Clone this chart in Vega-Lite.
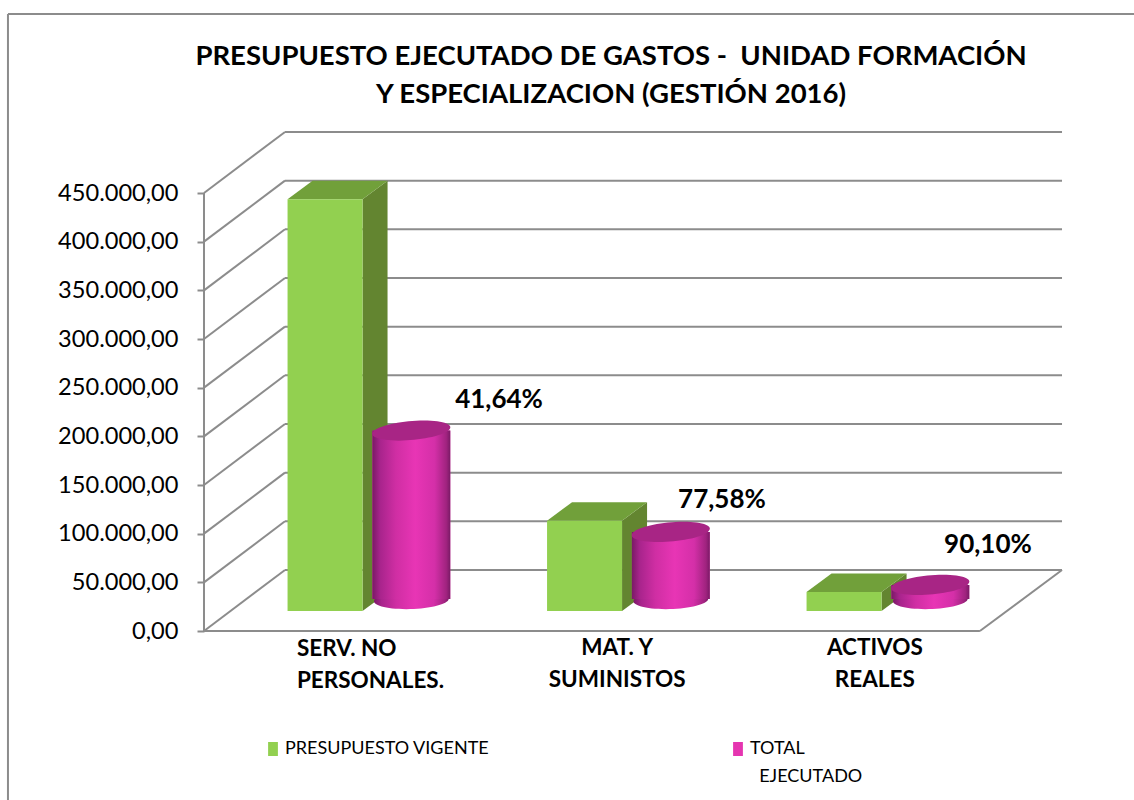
{
"$schema":"https://vega.github.io/schema/vega-lite/v6.json",
"width":1134,"height":800,"autosize":{"type":"none"},"padding":0,
"background":"white","view":{"stroke":null},
"config":{"style":{"guide-label":{"lineHeight":28}}},
"resolve":{"axis":{"y":"independent"}},
"title":{"text":["PRESUPUESTO EJECUTADO DE GASTOS -\u00a0 UNIDAD FORMACIÓN","Y ESPECIALIZACION (GESTIÓN 2016)"],"font":"Lato","fontSize":27.5,"fontWeight":"bold","color":"#000000","anchor":"middle","baseline":"top","offset":-108,"dx":44,"lineHeight":38},
"datasets":{
"bars":[
{"cat":"SERV. NO\nPERSONALES.","series":"PRESUPUESTO VIGENTE","value":423000},
{"cat":"SERV. NO\nPERSONALES.","series":"TOTAL EJECUTADO","value":176100,"pct":"41,64%"},
{"cat":"MAT. Y\nSUMINISTOS","series":"PRESUPUESTO VIGENTE","value":92800},
{"cat":"MAT. Y\nSUMINISTOS","series":"TOTAL EJECUTADO","value":72000,"pct":"77,58%"},
{"cat":"ACTIVOS\nREALES","series":"PRESUPUESTO VIGENTE","value":19500},
{"cat":"ACTIVOS\nREALES","series":"TOTAL EJECUTADO","value":17570,"pct":"90,10%"}
],
"ticks":[{"tick":0},{"tick":50000},{"tick":100000},{"tick":150000},{"tick":200000},{"tick":250000},{"tick":300000},{"tick":350000},{"tick":400000},{"tick":450000}],
"one":[{"frame":1}]
},
"layer":[
{"data":{"name":"ticks"},"mark":{"type":"rule","color":"#8c8c8c","strokeWidth":2},
 "transform":[{"calculate":"0","as":"a"},{"calculate":"0.3121","as":"b"},{"calculate":"datum.tick+62700","as":"t2"}],
 "encoding":{
 "x":{"field":"a","type":"quantitative","scale":{"domain":[-0.7861,3.5838],"nice":false,"zero":false},"axis":null},
 "x2":{"field":"b"},
 "y":{"field":"tick","type":"quantitative","scale":{"domain":[-173630,648290],"nice":false,"zero":false},
   "axis":{"orient":"left","offset":-204,"values":[0,50000,100000,150000,200000,250000,300000,350000,400000,450000],"title":null,"domain":false,"grid":false,"ticks":true,"tickSize":7,"tickWidth":2,"tickColor":"#8c8c8c","labelFont":"Lato","labelFontSize":23.6,"labelColor":"#000000","labelPadding":19,"labelExpr":"replace(replace(replace(format(datum.value,',.2f'),/,/g,'#'),/\\./g,','),/#/g,'.')"}},
 "y2":{"field":"t2"}}},
{"data":{"name":"ticks"},"mark":{"type":"rule","color":"#8c8c8c","strokeWidth":2},
 "transform":[{"calculate":"0.3121","as":"a"},{"calculate":"3.3064","as":"b"},{"calculate":"datum.tick+62700","as":"t2"}],
 "encoding":{"x":{"field":"a","type":"quantitative","axis":null},"x2":{"field":"b"},"y":{"field":"t2","type":"quantitative","axis":null}}},
{"data":{"name":"one"},"mark":{"type":"rule","color":"#8c8c8c","strokeWidth":2},"encoding":{"x":{"datum":0,"type":"quantitative","axis":null},"y":{"datum":0,"type":"quantitative","axis":null},"y2":{"datum":450000}}},
{"data":{"name":"one"},"mark":{"type":"rule","color":"#8c8c8c","strokeWidth":2},"encoding":{"x":{"datum":0,"type":"quantitative","axis":null},"x2":{"datum":2.99},"y":{"datum":0,"type":"quantitative","axis":null}}},
{"data":{"name":"one"},"mark":{"type":"rule","color":"#8c8c8c","strokeWidth":2},"encoding":{"x":{"datum":2.99,"type":"quantitative","axis":null},"x2":{"datum":3.3064},"y":{"datum":0,"type":"quantitative","axis":null},"y2":{"datum":62700}}},
{"data":{"name":"one"},"mark":{"type":"rule","color":"#8c8c8c","strokeWidth":2},"encoding":{"x":{"datum":-0.7554,"type":"quantitative","axis":null},"y":{"datum":-173630,"type":"quantitative","axis":null},"y2":{"datum":633900}}},
{"data":{"name":"one"},"mark":{"type":"rule","color":"#8c8c8c","strokeWidth":2},"encoding":{"x":{"datum":-0.7554,"type":"quantitative","axis":null},"x2":{"datum":3.5838},"y":{"datum":633900,"type":"quantitative","axis":null}}},

{"data":{"name":"bars"},"mark":{"type":"area","color":"#638530","orient":"vertical"},
 "transform":[{"filter":"datum.series=='PRESUPUESTO VIGENTE'"},
 {"calculate":"indexof(['SERV','MAT.','ACTI'],slice(datum.cat,0,4))","as":"idx"},
 {"calculate":"[0,1]","as":"d"},{"flatten":["d"]},
 {"calculate":"datum.idx+0.611+datum.d*0.0963","as":"px"},
 {"calculate":"20550+datum.d*19000","as":"lo"},
 {"calculate":"datum.lo+datum.value","as":"hi"}],
 "encoding":{"x":{"field":"px","type":"quantitative","axis":null},"y":{"field":"hi","type":"quantitative","axis":null},"y2":{"field":"lo"},"detail":{"field":"cat"}}},
{"data":{"name":"bars"},"mark":{"type":"area","color":"#71a03a","orient":"horizontal"},
 "transform":[{"filter":"datum.series=='PRESUPUESTO VIGENTE'"},
 {"calculate":"indexof(['SERV','MAT.','ACTI'],slice(datum.cat,0,4))","as":"idx"},
 {"calculate":"[0,1]","as":"d"},{"flatten":["d"]},
 {"calculate":"datum.idx+0.322+datum.d*0.0963","as":"xa"},
 {"calculate":"datum.idx+0.611+datum.d*0.0963","as":"xb"},
 {"calculate":"20550+datum.d*19000+datum.value","as":"yy"}],
 "encoding":{"x":{"field":"xa","type":"quantitative","axis":null},"x2":{"field":"xb"},"y":{"field":"yy","type":"quantitative","axis":null},"detail":{"field":"cat"}}},
{"data":{"name":"bars"},"mark":{"type":"rect"},
 "transform":[
 {"calculate":"indexof(['SERV','MAT.','ACTI'],slice(datum.cat,0,4))","as":"idx"},
 {"calculate":"datum.series=='PRESUPUESTO VIGENTE'?datum.idx+0.322:datum.idx+0.649","as":"x0"},
 {"calculate":"datum.series=='PRESUPUESTO VIGENTE'?datum.idx+0.611:datum.idx+0.949","as":"x1"},
 {"calculate":"datum.series=='PRESUPUESTO VIGENTE'?20550:32800","as":"lo"},
 {"calculate":"datum.series=='PRESUPUESTO VIGENTE'?20550+datum.value:29800+datum.value","as":"hi"}],
 "encoding":{"x":{"field":"x0","type":"quantitative","axis":null},"x2":{"field":"x1"},"y":{"field":"hi","type":"quantitative","axis":null},"y2":{"field":"lo"},
 "color":{"field":"series","type":"nominal","scale":{"domain":["PRESUPUESTO VIGENTE","TOTAL EJECUTADO"],"range":["#92d050","#e535b0"]},
  "legend":{"orient":"none","legendX":264,"legendY":740,"direction":"horizontal","columns":2,"title":null,"symbolType":"M -0.7 -1 H 0.7 V 1 H -0.7 Z","symbolSize":196,"symbolStrokeWidth":0,"labelFont":"Lato","labelFontSize":18,"labelColor":"#000000","labelLimit":400,"columnPadding":239,"labelOffset":3,
  "labelExpr":"datum.label=='TOTAL EJECUTADO'?['TOTAL','\u200b\u00a0\u00a0EJECUTADO']:[datum.label,'\u200b\u00a0']",
  "encoding":{"labels":{"update":{"lineHeight":{"value":28}}}}}}}},
{"data":{"name":"bars"},"mark":{"type":"point","filled":true,"opacity":1,"size":6084,"shape":"M -0.95 0 A 0.95 0.23 -2 1 1 0.95 0 A 0.95 0.23 -2 1 1 -0.95 0 Z","fill":{"gradient":"linear","x1":0,"y1":0,"x2":1,"y2":0,"stops":[{"offset":0,"color":"#7a1a66"},{"offset":0.1,"color":"#a8248c"},{"offset":0.3,"color":"#cf2ea3"},{"offset":0.55,"color":"#e835b5"},{"offset":0.8,"color":"#d42fa8"},{"offset":0.95,"color":"#a0237f"},{"offset":1,"color":"#7a1a66"}]}},
 "transform":[{"filter":"datum.series=='TOTAL EJECUTADO'"},
 {"calculate":"indexof(['SERV','MAT.','ACTI'],slice(datum.cat,0,4))+0.799","as":"xc"},{"calculate":"31850","as":"yc"}],
 "encoding":{"x":{"field":"xc","type":"quantitative","axis":null},"y":{"field":"yc","type":"quantitative","axis":null}}},
{"data":{"name":"bars"},"mark":{"type":"rect","fill":{"gradient":"linear","x1":0,"y1":0,"x2":1,"y2":0,"stops":[{"offset":0,"color":"#7a1a66"},{"offset":0.1,"color":"#a8248c"},{"offset":0.3,"color":"#cf2ea3"},{"offset":0.55,"color":"#e835b5"},{"offset":0.8,"color":"#d42fa8"},{"offset":0.95,"color":"#a0237f"},{"offset":1,"color":"#7a1a66"}]}},
 "transform":[{"filter":"datum.series=='TOTAL EJECUTADO'"},
 {"calculate":"indexof(['SERV','MAT.','ACTI'],slice(datum.cat,0,4))","as":"idx"},
 {"calculate":"datum.idx+0.649","as":"x0"},{"calculate":"datum.idx+0.949","as":"x1"},{"calculate":"32800","as":"lo"},{"calculate":"29800+datum.value","as":"hi"}],
 "encoding":{"x":{"field":"x0","type":"quantitative","axis":null},"x2":{"field":"x1"},"y":{"field":"hi","type":"quantitative","axis":null},"y2":{"field":"lo"}}},
{"data":{"name":"bars"},"mark":{"type":"point","filled":true,"opacity":1,"size":6084,"shape":"M -0.95 0 A 0.95 0.23 -5 1 1 0.95 0 A 0.95 0.23 -5 1 1 -0.95 0 Z","fill":"#a82585"},
 "transform":[{"filter":"datum.series=='TOTAL EJECUTADO'"},
 {"calculate":"indexof(['SERV','MAT.','ACTI'],slice(datum.cat,0,4))+0.799","as":"xc"},{"calculate":"29800+datum.value","as":"yc"}],
 "encoding":{"x":{"field":"xc","type":"quantitative","axis":null},"y":{"field":"yc","type":"quantitative","axis":null}}},
{"data":{"name":"bars"},"mark":{"type":"text","font":"Lato","fontWeight":"bold","fontSize":26,"color":"#000000","baseline":"middle","align":"center"},
 "transform":[{"filter":"datum.series=='TOTAL EJECUTADO'"},
 {"calculate":"indexof(['SERV','MAT.','ACTI'],slice(datum.cat,0,4))","as":"idx"},
 {"calculate":"datum.idx+[1.137,0.996,1.021][datum.idx]","as":"xt"},
 {"calculate":"29800+datum.value+[31400,32800,41000][datum.idx]","as":"yt"}],
 "encoding":{"x":{"field":"xt","type":"quantitative","axis":null},"y":{"field":"yt","type":"quantitative","axis":null},"text":{"field":"pct"}}},
{"data":{"name":"bars"},"mark":{"type":"text","font":"Lato","fontWeight":"bold","fontSize":22.5,"color":"#000000","baseline":"top","align":"center","lineBreak":"\n","lineHeight":32},
 "transform":[{"filter":"datum.series=='TOTAL EJECUTADO'&&slice(datum.cat,0,4)!='SERV'"},
 {"calculate":"indexof(['SERV','MAT.','ACTI'],slice(datum.cat,0,4))+[0,0.592,0.585][indexof(['SERV','MAT.','ACTI'],slice(datum.cat,0,4))]","as":"xt"}],
 "encoding":{"x":{"field":"xt","type":"quantitative","axis":null},"y":{"datum":-6500,"type":"quantitative","axis":null},"text":{"field":"cat"}}},
{"data":{"name":"bars"},"mark":{"type":"text","font":"Lato","fontWeight":"bold","fontSize":22.5,"color":"#000000","baseline":"top","align":"left","lineBreak":"\n","lineHeight":32},
 "transform":[{"filter":"datum.series=='TOTAL EJECUTADO'&&slice(datum.cat,0,4)=='SERV'"},{"calculate":"0.358","as":"xt"}],
 "encoding":{"x":{"field":"xt","type":"quantitative","axis":null},"y":{"datum":-7500,"type":"quantitative","axis":null},"text":{"field":"cat"}}}
]
}
